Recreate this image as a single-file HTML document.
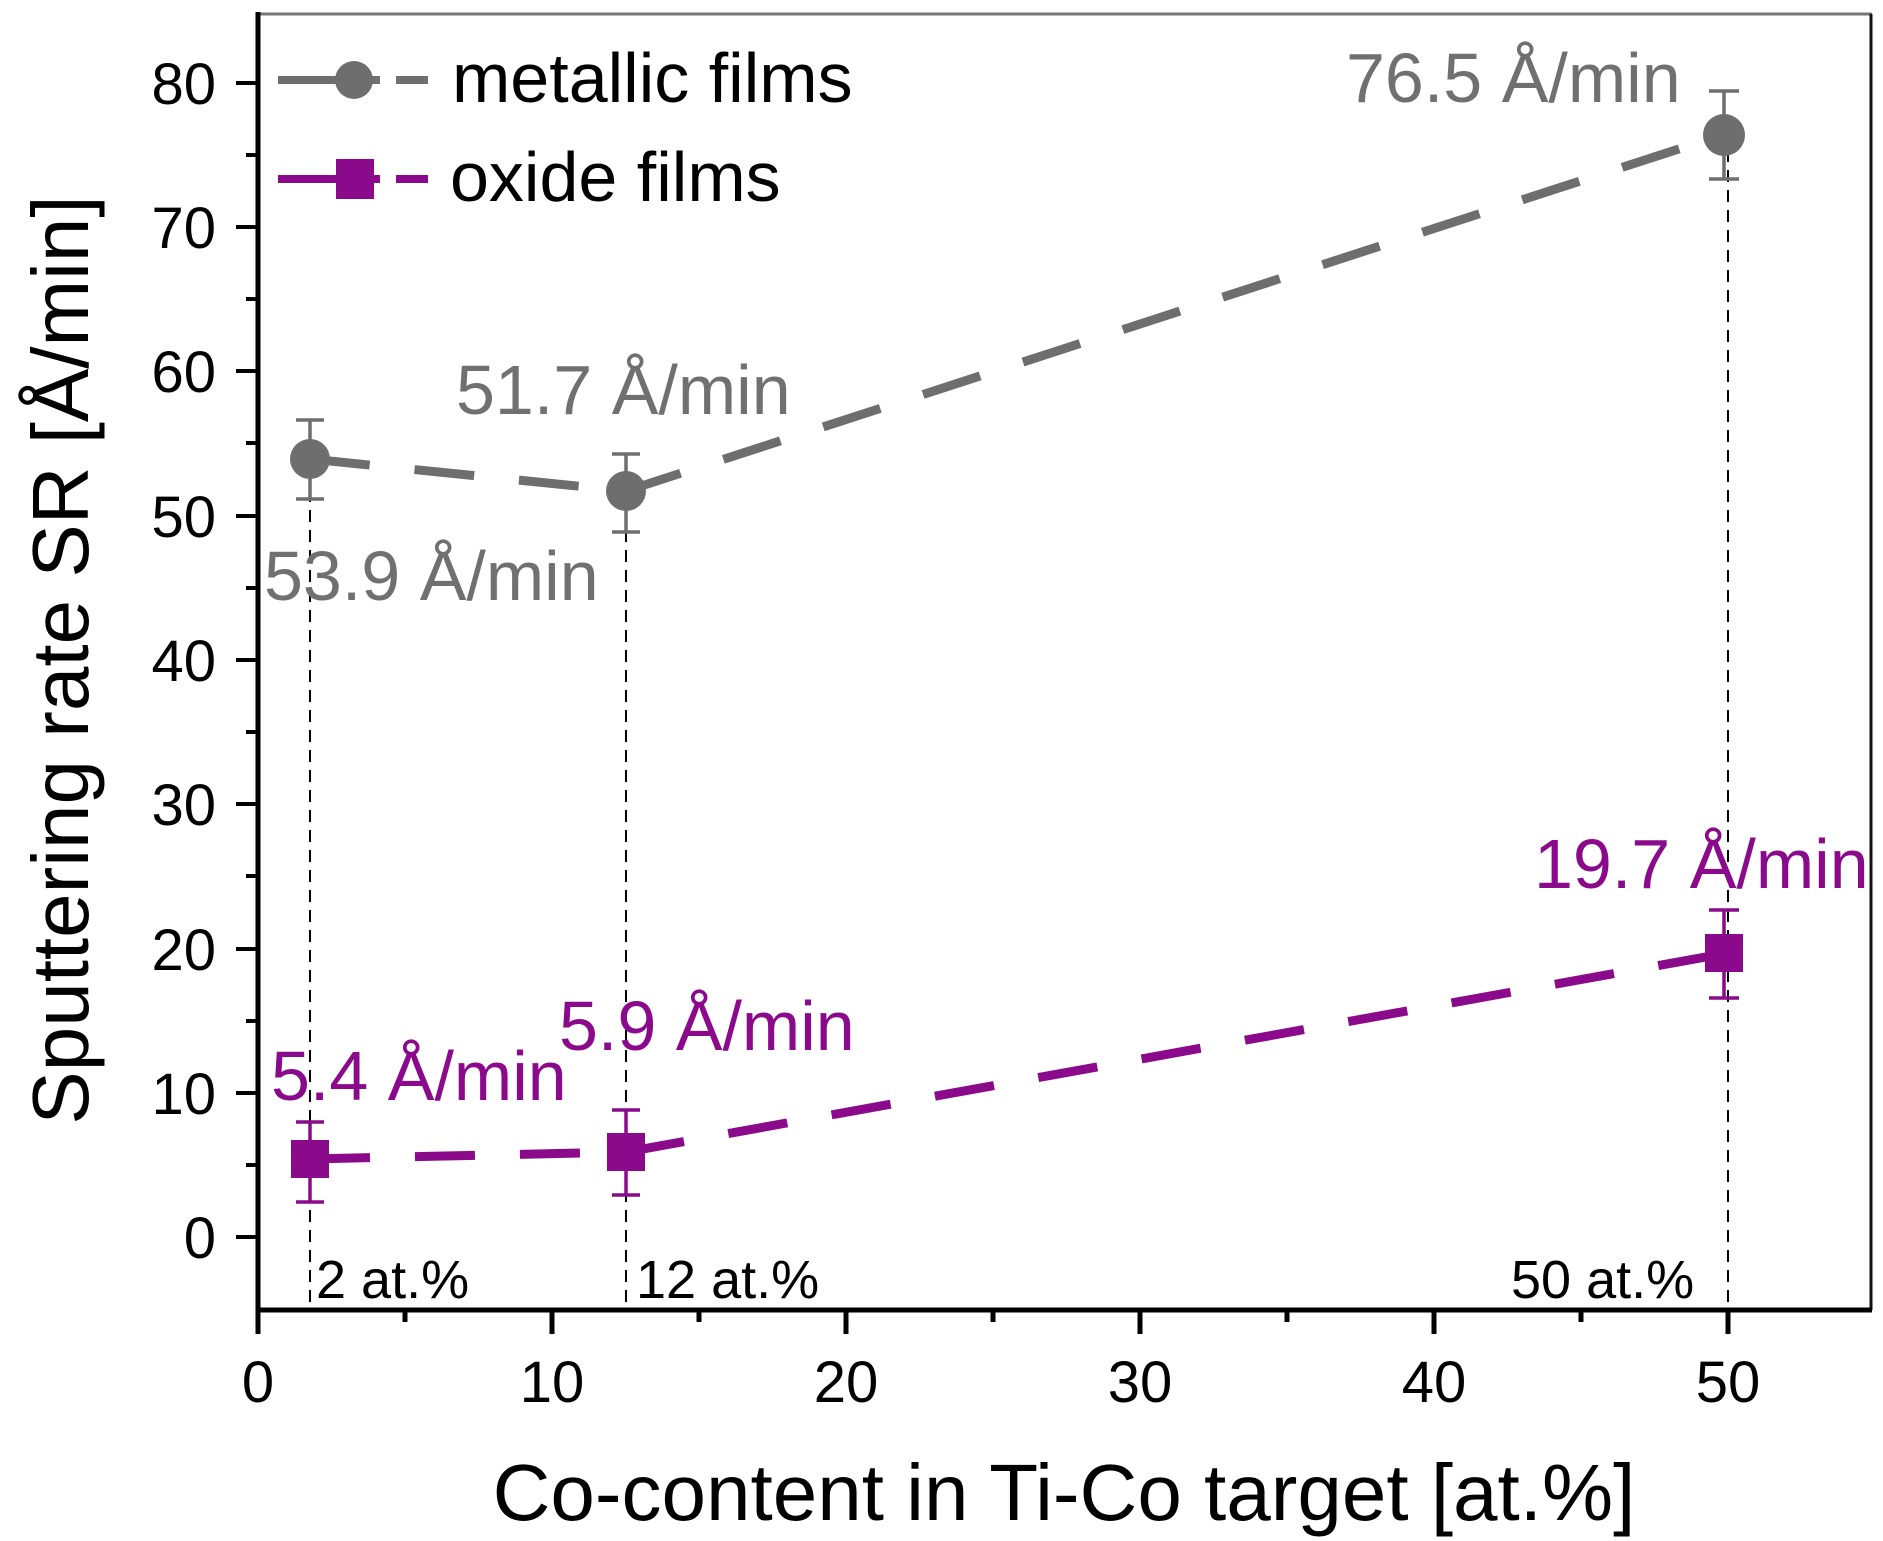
<!DOCTYPE html>
<html><head><meta charset="utf-8"><style>
html,body{margin:0;padding:0;background:#fff}
svg{display:block}
text{font-family:"Liberation Sans",Arial,sans-serif}
</style></head><body>
<svg width="1883" height="1541" viewBox="0 0 1883 1541" xmlns="http://www.w3.org/2000/svg">
<!-- frame -->
<line x1="258" y1="14" x2="1872" y2="14" stroke="#777" stroke-width="3"/>
<line x1="1871" y1="14" x2="1871" y2="1310" stroke="#111" stroke-width="3"/>
<line x1="258" y1="12" x2="258" y2="1312" stroke="#000" stroke-width="5"/>
<line x1="256" y1="1310" x2="1872" y2="1310" stroke="#000" stroke-width="5"/>
<!-- x ticks -->
<g stroke="#000" stroke-width="5">
<line x1="258" y1="1310" x2="258" y2="1334"/><line x1="552" y1="1310" x2="552" y2="1334"/>
<line x1="846" y1="1310" x2="846" y2="1334"/><line x1="1140" y1="1310" x2="1140" y2="1334"/>
<line x1="1434" y1="1310" x2="1434" y2="1334"/><line x1="1728" y1="1310" x2="1728" y2="1334"/>
<line x1="405" y1="1310" x2="405" y2="1322"/><line x1="699" y1="1310" x2="699" y2="1322"/>
<line x1="993" y1="1310" x2="993" y2="1322"/><line x1="1287" y1="1310" x2="1287" y2="1322"/>
<line x1="1581" y1="1310" x2="1581" y2="1322"/>
</g>
<g font-size="58" text-anchor="middle" fill="#000">
<text x="258" y="1402">0</text><text x="552" y="1402">10</text><text x="846" y="1402">20</text>
<text x="1140" y="1402">30</text><text x="1434" y="1402">40</text><text x="1728" y="1402">50</text>
</g>
<!-- y ticks -->
<g stroke="#000" stroke-width="4">
<line x1="236" y1="1237" x2="258" y2="1237"/><line x1="236" y1="1093" x2="258" y2="1093"/>
<line x1="236" y1="949" x2="258" y2="949"/><line x1="236" y1="804" x2="258" y2="804"/>
<line x1="236" y1="660" x2="258" y2="660"/><line x1="236" y1="516" x2="258" y2="516"/>
<line x1="236" y1="371" x2="258" y2="371"/><line x1="236" y1="227" x2="258" y2="227"/>
<line x1="236" y1="83" x2="258" y2="83"/>
<line x1="246" y1="1165" x2="258" y2="1165"/>
<line x1="246" y1="1021" x2="258" y2="1021"/><line x1="246" y1="876" x2="258" y2="876"/>
<line x1="246" y1="732" x2="258" y2="732"/><line x1="246" y1="588" x2="258" y2="588"/>
<line x1="246" y1="443" x2="258" y2="443"/><line x1="246" y1="299" x2="258" y2="299"/>
<line x1="246" y1="155" x2="258" y2="155"/>
</g>
<g font-size="58" text-anchor="end" fill="#000">
<text x="216" y="1258">0</text><text x="216" y="1114">10</text><text x="216" y="970">20</text>
<text x="216" y="825">30</text><text x="216" y="681">40</text><text x="216" y="537">50</text>
<text x="216" y="392">60</text><text x="216" y="248">70</text><text x="216" y="104">80</text>
</g>
<!-- axis titles -->
<text x="1064" y="1520" font-size="80" text-anchor="middle">Co-content in Ti-Co target [at.%]</text>
<text transform="translate(88,660) rotate(-90)" font-size="80" text-anchor="middle">Sputtering rate SR [Å/min]</text>
<!-- drop lines -->
<g stroke="#000" stroke-width="2" stroke-dasharray="12,8">
<line x1="310" y1="470" x2="310" y2="1310"/>
<line x1="626" y1="490" x2="626" y2="1310"/>
<line x1="1728" y1="150" x2="1728" y2="1310"/>
</g>
<!-- metallic series -->
<g stroke="#6e6e6e" fill="none">
<polyline points="310,459 626,491 1728,133" stroke-width="9" stroke-dasharray="60,45" stroke-linecap="butt"/>
<g stroke-width="3.5">
<line x1="310" y1="420" x2="310" y2="499"/><line x1="296" y1="420" x2="324" y2="420"/><line x1="296" y1="499" x2="324" y2="499"/>
<line x1="626" y1="454" x2="626" y2="532"/><line x1="612" y1="454" x2="640" y2="454"/><line x1="612" y1="532" x2="640" y2="532"/>
<line x1="1724" y1="91" x2="1724" y2="179"/><line x1="1709" y1="91" x2="1739" y2="91"/><line x1="1709" y1="179" x2="1739" y2="179"/>
</g>
</g>
<g fill="#6e6e6e">
<circle cx="310" cy="459" r="20"/><circle cx="626" cy="491" r="20"/><circle cx="1724" cy="135" r="21"/>
</g>
<!-- oxide series -->
<g stroke="#8b0a8b" fill="none">
<polyline points="310,1159 626,1152 1728,953" stroke-width="9" stroke-dasharray="60,45"/>
<g stroke-width="3.5">
<line x1="310" y1="1122" x2="310" y2="1202"/><line x1="296" y1="1122" x2="324" y2="1122"/><line x1="296" y1="1202" x2="324" y2="1202"/>
<line x1="626" y1="1110" x2="626" y2="1195"/><line x1="612" y1="1110" x2="640" y2="1110"/><line x1="612" y1="1195" x2="640" y2="1195"/>
<line x1="1724" y1="910" x2="1724" y2="998"/><line x1="1709" y1="910" x2="1739" y2="910"/><line x1="1709" y1="998" x2="1739" y2="998"/>
</g>
</g>
<g fill="#8b0a8b">
<rect x="291" y="1140" width="38" height="38"/><rect x="607" y="1133" width="38" height="38"/><rect x="1705" y="934" width="38" height="38"/>
</g>
<!-- annotations -->
<g font-size="70" fill="#707070">
<text x="1346" y="102">76.5 Å/min</text>
<text x="456" y="414">51.7 Å/min</text>
<text x="264" y="600">53.9 Å/min</text>
</g>
<g font-size="70" fill="#8b0a8b">
<text x="1534" y="888">19.7 Å/min</text>
<text x="559" y="1050">5.9 Å/min</text>
<text x="271" y="1100">5.4 Å/min</text>
</g>
<g font-size="54" fill="#000">
<text x="316" y="1298">2 at.%</text>
<text x="636" y="1298">12 at.%</text>
<text x="1511" y="1298">50 at.%</text>
</g>
<!-- legend -->
<line x1="278" y1="80" x2="340" y2="80" stroke="#6e6e6e" stroke-width="8"/>
<circle cx="354" cy="80" r="19" fill="#6e6e6e"/>
<line x1="364" y1="80" x2="380" y2="80" stroke="#6e6e6e" stroke-width="8"/>
<line x1="396" y1="80" x2="428" y2="80" stroke="#6e6e6e" stroke-width="8"/>
<text x="452" y="102" font-size="70">metallic films</text>
<line x1="278" y1="179" x2="380" y2="179" stroke="#8b0a8b" stroke-width="8"/>
<rect x="336" y="159" width="38" height="40" fill="#8b0a8b"/>
<line x1="396" y1="179" x2="428" y2="179" stroke="#8b0a8b" stroke-width="8"/>
<text x="450" y="201" font-size="70">oxide films</text>
</svg>
</body></html>
